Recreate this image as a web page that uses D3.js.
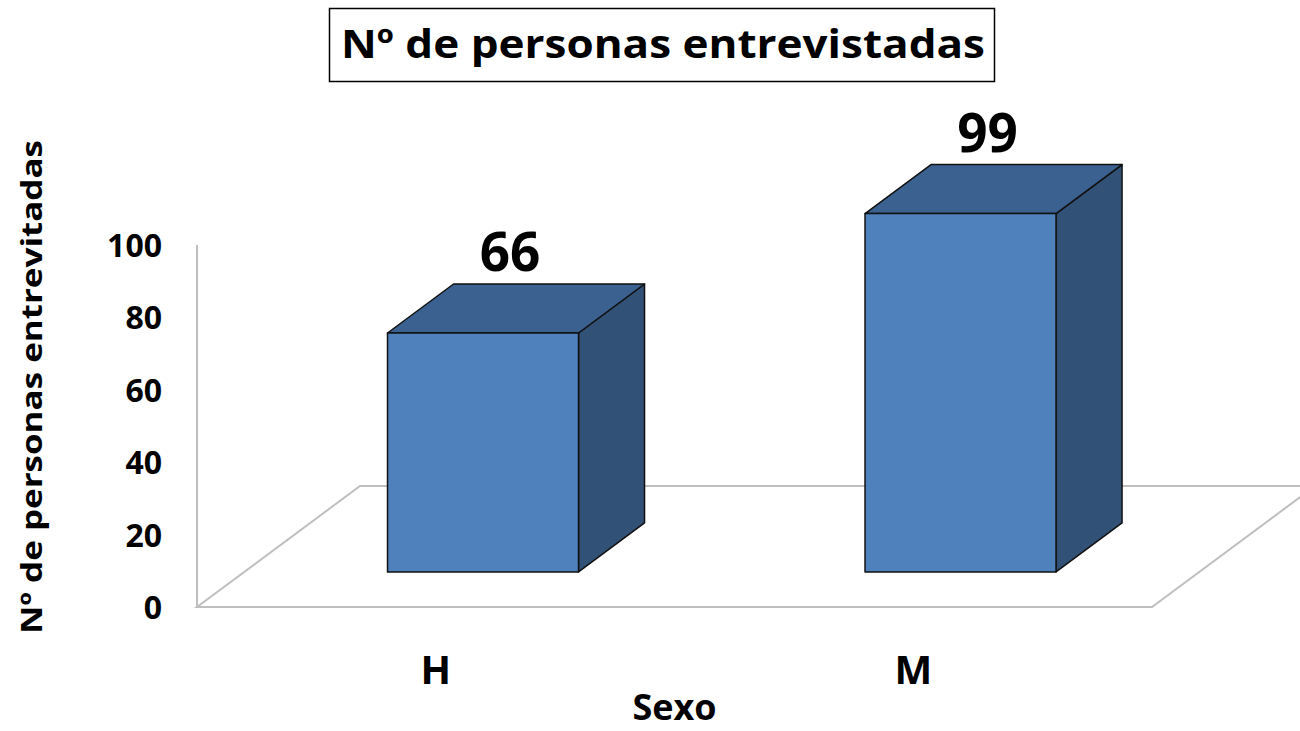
<!DOCTYPE html>
<html>
<head>
<meta charset="utf-8">
<script src="https://cdn.jsdelivr.net/npm/d3@7"></script>
<style>
	body { margin: 0; background: #fff; }
	text { font-family: "Open Sans", "DejaVu Sans", sans-serif; font-weight: bold; fill: #000; }
</style>
</head>
<body>
<div id="chart"></div>
<script>
// chart data
var categories = ["H", "M"],
	values = [66, 99],
	yTicks = [0, 20, 40, 60, 80, 100];

var titleText = "Nº de personas entrevistadas",
	yTitleText = "Nº de personas entrevitadas",	// typo kept as in the original
	xTitleText = "Sexo";

// viz params
var w = 1300,
	h = 731,
	floorDepth = [163, -121],	// back edge offset of the floor
	barFront = 0.29,			// bar front / back as fraction of floor depth
	barBack = 0.695;

var svg = d3.select("#chart").append("svg")
	.attr("width", w)
	.attr("height", h);

var x = d3.scaleBand()
	.domain(categories)
	.range([197, 1152])
	.paddingInner(0.6)
	.paddingOuter(0.3);

var y = d3.scaleLinear()
	.domain([0, 100])
	.range([607, 245]);

// floor and wall
var fx0 = x.range()[0], fx1 = x.range()[1], fy = y(0);
svg.append("path")
	.attr("d", "M" + fx0 + "," + fy + "L" + fx1 + "," + fy +
		"L" + (fx1 + floorDepth[0]) + "," + (fy + floorDepth[1]) +
		"L" + (fx0 + floorDepth[0]) + "," + (fy + floorDepth[1]) + "Z")
	.attr("fill", "none")
	.attr("stroke", "#bfbfbf")
	.attr("stroke-width", 2);

svg.append("line")
	.attr("x1", fx0).attr("x2", fx0)
	.attr("y1", y(0)).attr("y2", y(100))
	.attr("stroke", "#bfbfbf")
	.attr("stroke-width", 2);

// 3d bars
var data = categories.map(function(c, i) { return { cat: c, value: values[i] }; });
var ox = floorDepth[0] * barFront, oy = floorDepth[1] * barFront,
	dx = floorDepth[0] * (barBack - barFront), dy = floorDepth[1] * (barBack - barFront);

var pts = function(p) { return p.map(function(q) { return q.join(","); }).join(" "); };

var bars = svg.selectAll("g.bar")
	.data(data)
	.enter().append("g")
	.attr("class", "bar")
	.attr("stroke", "#111")
	.attr("stroke-width", 1.5)
	.attr("stroke-linejoin", "round");

bars.each(function(d) {
	var g = d3.select(this),
		x0 = x(d.cat) + ox, x1 = x0 + x.bandwidth(),
		yb = y(0) + oy, yt = y(d.value) + oy;
	g.append("polygon")	// side
		.attr("points", pts([[x1, yt], [x1 + dx, yt + dy], [x1 + dx, yb + dy], [x1, yb]]))
		.attr("fill", "#325176");
	g.append("polygon")	// top
		.attr("points", pts([[x0, yt], [x1, yt], [x1 + dx, yt + dy], [x0 + dx, yt + dy]]))
		.attr("fill", "#3b6190");
	g.append("polygon")	// front
		.attr("points", pts([[x0, yt], [x1, yt], [x1, yb], [x0, yb]]))
		.attr("fill", "#4f81bd");
});

// value labels
svg.selectAll("text.value")
	.data(data)
	.enter().append("text")
	.attr("class", "value")
	.attr("x", function(d) { return x(d.cat) + x.bandwidth() / 2 + ox + 27; })
	.attr("y", function(d) { return y(d.value) + oy + dy - 13; })
	.attr("text-anchor", "middle")
	.style("font-size", "53px")
	.text(function(d) { return d.value; });

// y axis labels
var yAxis = svg.append("g")
	.attr("transform", "translate(166,0)")
	.call(d3.axisLeft(y).tickValues(yTicks).tickSize(0).tickPadding(4));
yAxis.select(".domain").remove();
yAxis.selectAll("text")
	.attr("dy", "0.36em")
	.style("font-family", "'Open Sans', sans-serif")
	.style("font-size", "32px")
	.style("font-weight", "bold")
	.attr("fill", "#000");

// x category labels
svg.selectAll("text.cat")
	.data(categories)
	.enter().append("text")
	.attr("class", "cat")
	.attr("x", function(d) { return x(d) + x.bandwidth() / 2; })
	.attr("y", 684)
	.attr("text-anchor", "middle")
	.style("font-size", "40px")
	.text(function(d) { return d; });

// axis titles
svg.append("text")
	.attr("x", (fx0 + fx1) / 2)
	.attr("y", 720)
	.attr("text-anchor", "middle")
	.style("font-size", "36px")
	.text(xTitleText);

svg.append("text")
	.attr("transform", "translate(42,387) rotate(-90)")
	.attr("text-anchor", "middle")
	.attr("textLength", 494)
	.attr("lengthAdjust", "spacingAndGlyphs")
	.style("font-size", "29px")
	.text(yTitleText);

// title in a box
svg.append("rect")
	.attr("x", 329.5).attr("y", 8.5)
	.attr("width", 665).attr("height", 73)
	.attr("fill", "#fff")
	.attr("stroke", "#000")
	.attr("stroke-width", 1.5);

svg.append("text")
	.attr("x", 663)
	.attr("y", 58)
	.attr("text-anchor", "middle")
	.attr("textLength", 644)
	.attr("lengthAdjust", "spacingAndGlyphs")
	.style("font-size", "40px")
	.text(titleText);
</script>
</body>
</html>
